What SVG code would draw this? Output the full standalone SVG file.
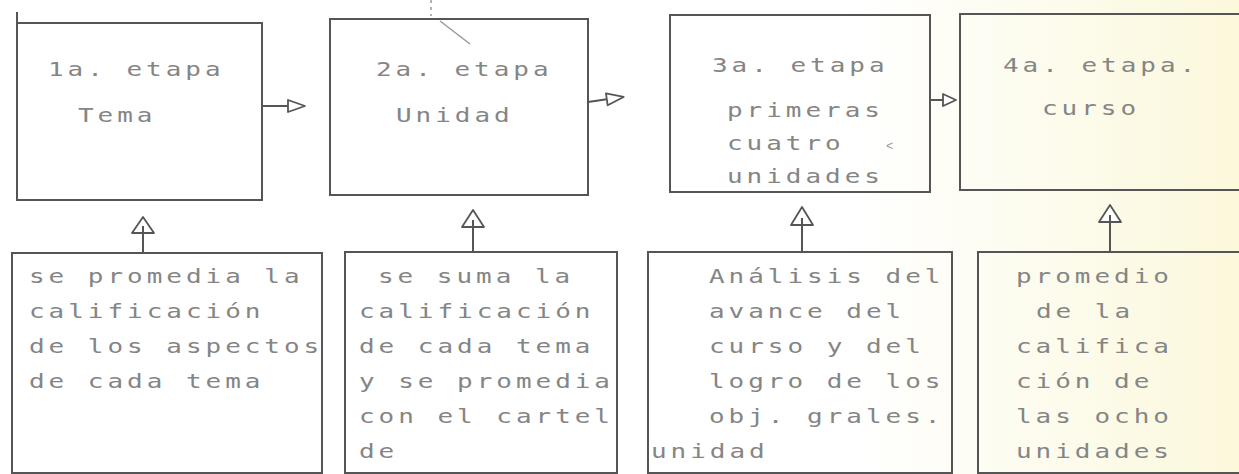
<svg xmlns="http://www.w3.org/2000/svg" width="1239" height="474" viewBox="0 0 1239 474">
<defs>
<style>
.box{fill:none;stroke:#555;stroke-width:2}
.t{font-family:"DejaVu Sans Mono","Liberation Mono",monospace;font-size:20px;letter-spacing:3.05px;fill:#858585}
.conn{stroke:#555;stroke-width:2;fill:none}
.head{fill:#fff;stroke:#555;stroke-width:1.8;stroke-linejoin:round}
.mark{stroke:#999;stroke-width:1.5;fill:none}
</style>
<linearGradient id="tint" x1="0" x2="1" y1="0" y2="0">
<stop offset="0" stop-color="#fbf8dc" stop-opacity="0"/>
<stop offset="1" stop-color="#fbf8dc" stop-opacity="1"/>
</linearGradient>
</defs>
<rect width="1239" height="474" fill="#fff"/>
<rect x="850" y="0" width="389" height="474" fill="url(#tint)"/>

<g id="etapa1">
<rect class="box" x="17" y="23" width="245" height="177"/>
<line class="box" x1="17" y1="12" x2="17" y2="23"/>
<text class="t" transform="translate(48 76) scale(1.3 1)">1a. etapa</text>
<text class="t" transform="translate(78 122) scale(1.3 1)">Tema</text>
</g>

<g id="etapa2">
<rect class="box" x="330" y="19" width="258" height="176"/>
<text class="t" transform="translate(376 76) scale(1.3 1)">2a. etapa</text>
<text class="t" transform="translate(396 122) scale(1.3 1)">Unidad</text>
</g>

<g id="etapa3">
<rect class="box" x="670" y="15" width="260" height="177"/>
<text class="t" transform="translate(712 72) scale(1.3 1)">3a. etapa</text>
<text class="t" transform="translate(727 117) scale(1.3 1)">primeras</text>
<text class="t" transform="translate(727 150) scale(1.3 1)">cuatro</text>
<text x="886" y="150" style="font-family:'Liberation Mono',monospace;font-size:12px;fill:#999">&lt;</text>
<text class="t" transform="translate(727 183) scale(1.3 1)">unidades</text>
</g>

<g id="etapa4">
<rect class="box" x="960" y="14" width="300" height="176"/>
<text class="t" transform="translate(1003 72) scale(1.3 1)">4a. etapa.</text>
<text class="t" transform="translate(1042 115) scale(1.3 1)">curso</text>
</g>

<g id="calc1">
<rect class="box" x="12" y="253" width="310" height="220"/>
<text class="t" transform="translate(29 283) scale(1.3 1)">se promedia la</text>
<text class="t" transform="translate(29 318) scale(1.3 1)">calificación</text>
<text class="t" transform="translate(29 353) scale(1.3 1)">de los aspectos</text>
<text class="t" transform="translate(29 388) scale(1.3 1)">de cada tema</text>
</g>

<g id="calc2">
<rect class="box" x="345" y="252" width="272" height="221"/>
<text class="t" transform="translate(378 283) scale(1.3 1)">se suma la</text>
<text class="t" transform="translate(359 318) scale(1.3 1)">calificación</text>
<text class="t" transform="translate(359 353) scale(1.3 1)">de cada tema</text>
<text class="t" transform="translate(359 388) scale(1.3 1)">y se promedia</text>
<text class="t" transform="translate(359 423) scale(1.3 1)">con el cartel</text>
<text class="t" transform="translate(359 458) scale(1.3 1)">de</text>
</g>

<g id="calc3">
<rect class="box" x="648" y="252" width="304" height="221"/>
<text class="t" transform="translate(709 283) scale(1.3 1)">Análisis del</text>
<text class="t" transform="translate(709 318) scale(1.3 1)">avance del</text>
<text class="t" transform="translate(709 353) scale(1.3 1)">curso y del</text>
<text class="t" transform="translate(709 388) scale(1.3 1)">logro de los</text>
<text class="t" transform="translate(709 423) scale(1.3 1)">obj. grales.</text>
<text class="t" transform="translate(651 458) scale(1.3 1)">unidad</text>
</g>

<g id="calc4">
<rect class="box" x="978" y="252" width="290" height="221"/>
<text class="t" transform="translate(1016 283) scale(1.3 1)">promedio</text>
<text class="t" transform="translate(1036 318) scale(1.3 1)">de la</text>
<text class="t" transform="translate(1016 353) scale(1.3 1)">califica</text>
<text class="t" transform="translate(1016 388) scale(1.3 1)">ción de</text>
<text class="t" transform="translate(1016 423) scale(1.3 1)">las ocho</text>
<text class="t" transform="translate(1016 458) scale(1.3 1)">unidades</text>
</g>

<g id="connectors">
<line class="conn" x1="262" y1="106" x2="288" y2="106"/>
<polygon class="head" points="288,100 305,106 288,112"/>
<g transform="rotate(-8 588 102)">
<line class="conn" x1="588" y1="102" x2="607" y2="102"/>
<polygon class="head" points="607,96 624,102 607,108"/>
</g>
<line class="conn" x1="930" y1="100" x2="943" y2="100"/>
<polygon class="head" points="943,94 956,100 943,106"/>

<line class="conn" x1="143" y1="253" x2="143" y2="233"/>
<polygon class="head" points="132,233 143,217 154,233"/>
<line class="conn" x1="143" y1="233" x2="143" y2="226"/>
<line class="conn" x1="473" y1="252" x2="473" y2="227"/>
<polygon class="head" points="462,227 473,210 484,227"/>
<line class="conn" x1="473" y1="227" x2="473" y2="220"/>
<line class="conn" x1="802" y1="252" x2="802" y2="225"/>
<polygon class="head" points="791,225 802,207 813,225"/>
<line class="conn" x1="802" y1="225" x2="802" y2="218"/>
<line class="conn" x1="1110" y1="252" x2="1110" y2="222"/>
<polygon class="head" points="1099,222 1110,205 1121,222"/>
<line class="conn" x1="1110" y1="222" x2="1110" y2="215"/>
</g>

<line class="mark" x1="440" y1="21" x2="470" y2="44"/>
<line class="mark" x1="431" y1="0" x2="431" y2="16" stroke-dasharray="3 4"/>
</svg>
